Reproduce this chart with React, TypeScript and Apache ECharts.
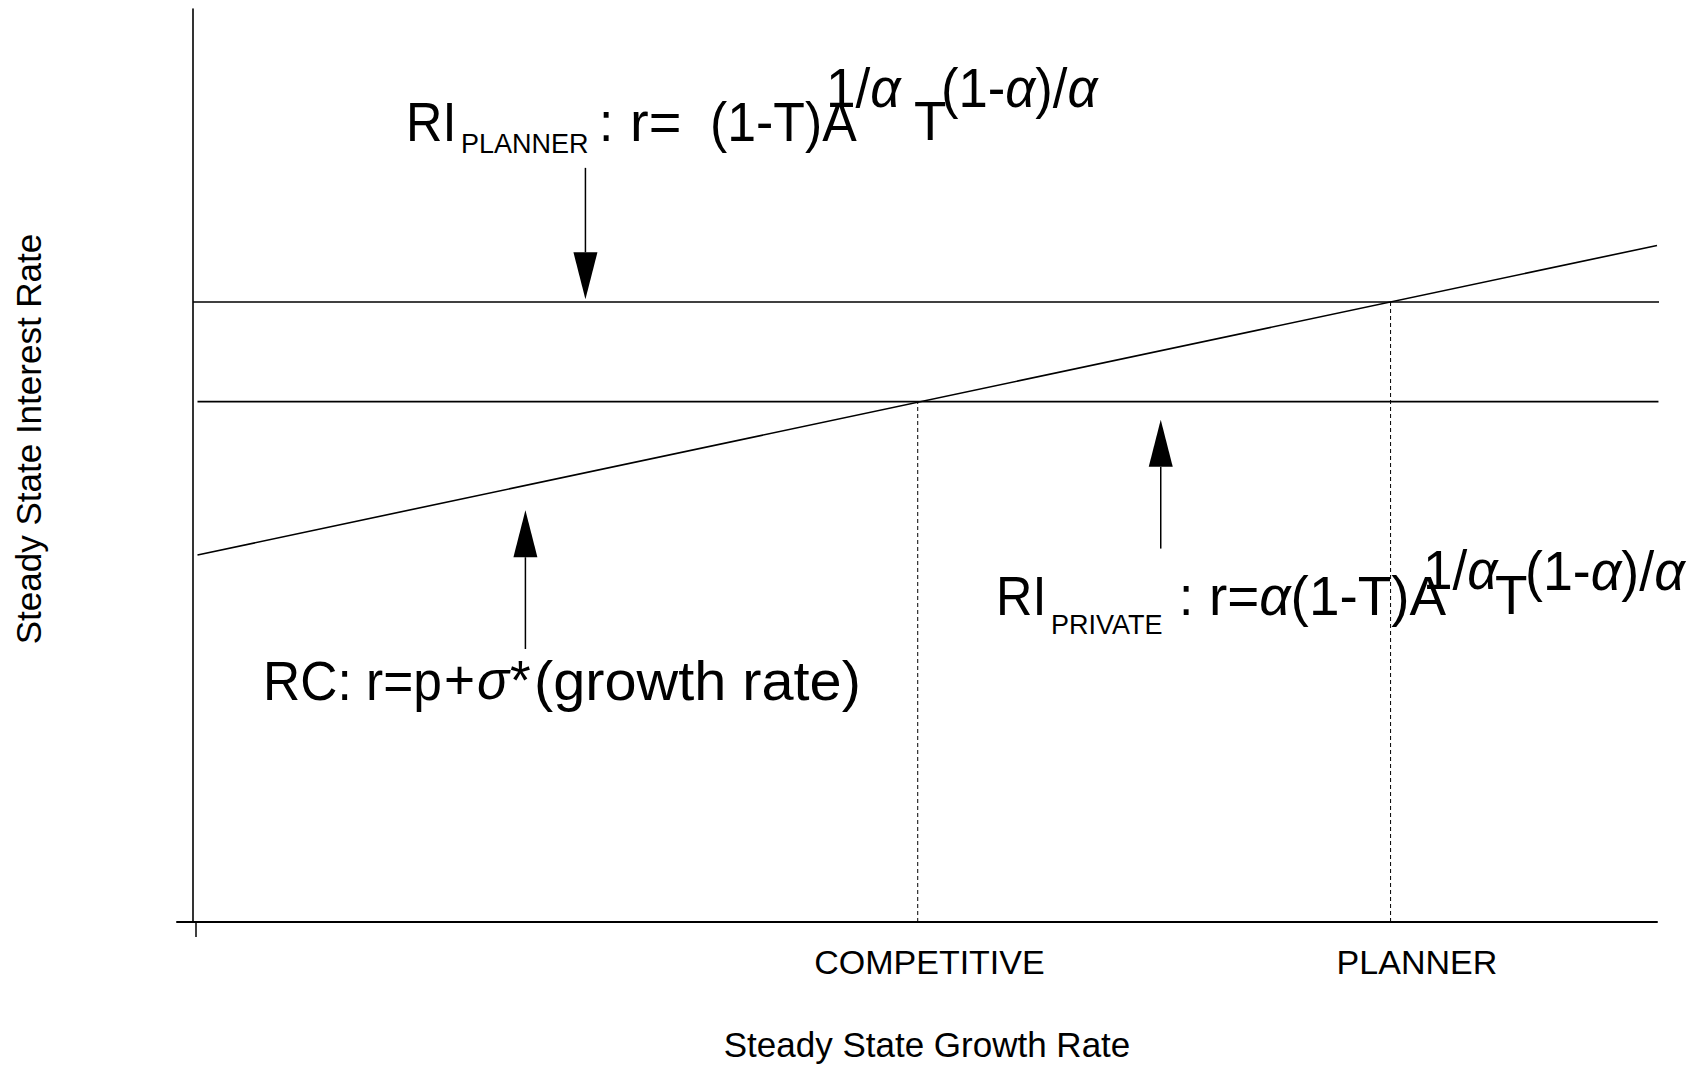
import React, { useEffect, useRef } from 'react';
import * as echarts from 'echarts';

const FONT = '"Liberation Sans", Arial, Helvetica, sans-serif';

// ---- data (axis units: growth rate and interest rate on 0..100 scales) ----
const xRange = [-1.1, 100];
const yRange = [0, 100];
const riPlanner = [[0, 67.9], [100.5, 67.9]];
const riPrivate = [[0.3, 57.0], [100.1, 57.0]];
const rcLine = [[0.3, 40.2], [100, 74.1]];
const competitiveDrop = [[49.5, 0], [49.5, 57.0]];
const plannerDrop = [[81.8, 0], [81.8, 67.9]];
// [x, tail y, tip y]
const arrows = [
  [26.8, 82.6, 68.2],
  [22.7, 29.9, 45.1],
  [66.1, 40.9, 55.0],
];
const xTickValues = [0.2];
const xLabelValues = [50.3, 83.6];
const xLabelNames = ['COMPETITIVE', 'PLANNER'];

const GREEK = /([ασ])/;

function richify(s: string): string {
  return s
    .split(GREEK)
    .filter((p) => p.length > 0)
    .map((p) => (p === 'α' || p === 'σ' ? `{i|${p}}` : `{n|${p}}`))
    .join('');
}

function txt(s: string, x: number, baseline: number, fs: number, sx = 1) {
  return {
    type: 'text',
    x,
    y: baseline - 0.35 * fs,
    scaleX: sx,
    scaleY: 1,
    silent: true,
    style: {
      text: richify(s),
      fontSize: fs,
      fontFamily: FONT,
      fill: '#000',
      align: 'left',
      verticalAlign: 'middle',
      rich: {
        n: { fontSize: fs, fontFamily: FONT, fill: '#000' },
        i: { fontSize: fs, fontFamily: FONT, fontStyle: 'italic', fill: '#000' },
      },
    },
  };
}

export default function App() {
  const ref = useRef<HTMLDivElement>(null);

  useEffect(() => {
    document.body.style.margin = '0';
    const chart = echarts.init(ref.current!, undefined, { renderer: 'svg' });

    const lineSeries = (data: number[][], dashed = false) => ({
      type: 'line',
      data,
      symbol: 'none',
      showSymbol: false,
      clip: false,
      silent: true,
      lineStyle: {
        color: '#000',
        width: dashed ? 1 : 1.6,
        type: dashed ? [4, 3] : 'solid',
      },
    });

    const big = 56;
    const small = 27;

    chart.setOption({
      animation: false,
      backgroundColor: '#fff',
      grid: { left: 177, right: 43, top: 9, bottom: 143 },
      xAxis: {
        type: 'value',
        min: xRange[0],
        max: xRange[1],
        splitLine: { show: false },
        axisLine: { onZero: true, lineStyle: { color: '#000', width: 2 } },
        axisTick: {
          show: true,
          customValues: xTickValues,
          length: 15,
          lineStyle: { color: '#000', width: 1.5 },
        },
        axisLabel: {
          show: true,
          customValues: xLabelValues,
          margin: 23,
          fontSize: 34,
          fontFamily: FONT,
          color: '#000',
          formatter: (v: number) => {
            const i = xLabelValues.findIndex((q) => Math.abs(q - v) < 1e-6);
            return i >= 0 ? xLabelNames[i] : '';
          },
        },
        name: 'Steady State Growth Rate',
        nameLocation: 'middle',
        nameGap: 105,
        nameTextStyle: {
          fontSize: 35,
          fontFamily: FONT,
          color: '#000',
          padding: [0, 0, 0, 20],
        },
      },
      yAxis: {
        type: 'value',
        min: yRange[0],
        max: yRange[1],
        splitLine: { show: false },
        axisLine: { show: true, onZero: true, lineStyle: { color: '#000', width: 1.6 } },
        axisTick: { show: false },
        axisLabel: { show: false },
      },
      series: [
        lineSeries(riPlanner),
        lineSeries(riPrivate),
        lineSeries(rcLine),
        lineSeries(competitiveDrop, true),
        lineSeries(plannerDrop, true),
        {
          type: 'custom',
          coordinateSystem: 'cartesian2d',
          data: arrows,
          clip: false,
          silent: true,
          encode: { x: 0, y: [1, 2] },
          renderItem: (params: any, api: any) => {
            const x = api.value(0);
            const tail = api.coord([x, api.value(1)]);
            const tip = api.coord([x, api.value(2)]);
            const dir = tip[1] > tail[1] ? 1 : -1;
            const baseY = tip[1] - dir * 47;
            return {
              type: 'group',
              children: [
                {
                  type: 'line',
                  shape: { x1: tail[0], y1: tail[1], x2: tip[0], y2: baseY },
                  style: { stroke: '#000', lineWidth: 1.5 },
                },
                {
                  type: 'polygon',
                  shape: {
                    points: [
                      [tip[0], tip[1]],
                      [tip[0] - 12, baseY],
                      [tip[0] + 12, baseY],
                    ],
                  },
                  style: { fill: '#000' },
                },
              ],
            };
          },
        },
      ],
      graphic: [
        {
          type: 'text',
          x: 28,
          y: 439,
          rotation: Math.PI / 2,
          silent: true,
          style: {
            text: 'Steady State Interest Rate',
            fontSize: 35,
            fontFamily: FONT,
            fill: '#000',
            align: 'center',
            verticalAlign: 'middle',
          },
        },
        // planner rate annotation
        txt('RI', 406, 141, big, 0.9),
        txt('PLANNER', 461, 153, small),
        txt(':', 599, 141, big, 0.92),
        txt('r=', 630, 141, big),
        txt('(1-T)A', 710, 141, big, 0.925),
        txt('1/α', 826, 108, big, 0.95),
        txt('T', 914, 141, big, 0.95),
        txt('(1-α)/α', 941, 108, big, 0.94),
        // private rate annotation
        txt('RI', 996, 615, big, 0.9),
        txt('PRIVATE', 1051, 634, small),
        txt(':', 1179, 615, big, 0.92),
        txt('r=α(1-T)A', 1209, 615, big, 0.98),
        txt('1/α', 1423, 590, big, 0.95),
        txt('T', 1495, 615, big, 0.95),
        txt('(1-α)/α', 1525, 590, big, 0.96),
        // RC annotation
        txt('RC: r=p', 263, 700, big, 0.92),
        txt('+', 444, 700, big, 0.95),
        txt('σ', 477, 700, big, 0.95),
        txt('*', 510, 700, big, 0.95),
        txt('(growth rate)', 534, 700, big, 1.03),
      ],
    });

    return () => chart.dispose();
  }, []);

  return <div ref={ref} style={{ width: 1700, height: 1067 }} />;
}
